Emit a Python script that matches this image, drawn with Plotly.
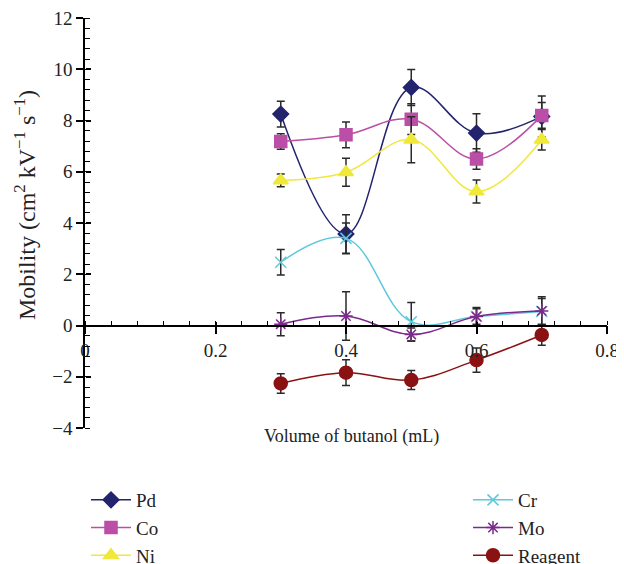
import plotly.graph_objects as go

x_vals = [0.3, 0.4, 0.5, 0.6, 0.7]

pd_vals = [8.25, 3.57, 9.29, 7.51, 8.16]
pd_err = [0.5, 0.75, 0.7, 0.75, 0.8]
co_vals = [7.18, 7.44, 8.05, 6.50, 8.20]
co_err = [0.3, 0.5, 0.6, 0.4, 0.5]
ni_vals = [5.66, 5.98, 7.25, 5.23, 7.25]
ni_err = [0.25, 0.55, 0.9, 0.45, 0.4]
cr_vals = [2.47, 3.40, 0.15, 0.35, 0.55]
cr_err = [0.5, 0.6, 0.75, 0.3, 0.5]
mo_vals = [0.05, 0.37, -0.35, 0.35, 0.57]
mo_err = [0.45, 0.95, 0.25, 0.35, 0.55]
rg_vals = [-2.26, -1.84, -2.13, -1.35, -0.37]
rg_err = [0.38, 0.5, 0.37, 0.47, 0.4]

x_ticks = [0, 0.2, 0.4, 0.6, 0.8]
x_tick_text = ["0", "0.2", "0.4", "0.6", "0.8"]
y_ticks = [-4, -2, 0, 2, 4, 6, 8, 10, 12]

FONT = "Liberation Serif"
TXT = "#222222"

series = [
    ("Pd", pd_vals, pd_err, "#23236e", "diamond", 12, "legend"),
    ("Co", co_vals, co_err, "#bb4ea6", "square", 12, "legend"),
    ("Ni", ni_vals, ni_err, "#f0e83a", "triangle-up", 13, "legend"),
    ("Cr", cr_vals, cr_err, "#5ec8dc", "x-thin-open", 11, "legend2"),
    ("Mo", mo_vals, mo_err, "#7b2a8c", "asterisk-open", 11, "legend2"),
    ("Reagent", rg_vals, rg_err, "#8a1212", "circle", 13, "legend2"),
]

fig = go.Figure()
for name, vals, err, color, sym, size, leg in series:
    fig.add_trace(go.Scatter(
        x=x_vals, y=vals, name=name, mode="lines+markers",
        line=dict(color=color, width=1.5, shape="spline", smoothing=1.1),
        marker=dict(symbol=sym, size=size, color=color,
                    line=dict(color=color, width=1.5)),
        error_y=dict(type="data", array=err, visible=True,
                     color="#2a2a2a", thickness=1.5, width=4),
        legend=leg, cliponaxis=False,
    ))

# invisible trace for overlay axes (crossing major ticks)
fig.add_trace(go.Scatter(x=[None], y=[None], xaxis="x2", yaxis="y2",
                         showlegend=False, hoverinfo="skip"))

axis_font = dict(family=FONT, size=19, color=TXT)
W, H = 522, 410  # plot area in px
OFF = 8          # page body margin

fig.update_layout(
    width=624 - OFF, height=564 - OFF,
    paper_bgcolor="white", plot_bgcolor="white",
    margin=dict(l=85 - OFF, r=17, t=18 - OFF, b=136, autoexpand=False),
    font=dict(family=FONT, size=19, color=TXT),
    xaxis=dict(
        range=[0, 0.8], anchor="free", position=0.25, automargin=False,
        tickvals=x_ticks, ticktext=x_tick_text, ticklabeloverflow="allow",
        ticks="outside", ticklen=8, tickwidth=1.5, tickcolor="black",
        minor=dict(dtick=0.04, ticks="inside", ticklen=4, tickwidth=1.2, tickcolor="black"),
        showline=True, linecolor="black", linewidth=1.5,
        showgrid=False, zeroline=False, tickfont=axis_font,
    ),
    yaxis=dict(
        range=[-4, 12], tickvals=y_ticks, automargin=False,
        ticklabeloverflow="allow",
        ticks="outside", ticklen=7, tickwidth=1.5, tickcolor="black",
        minor=dict(dtick=0.4, ticks="inside", ticklen=5, tickwidth=1.2, tickcolor="black"),
        showline=True, linecolor="black", linewidth=1.5,
        showgrid=False, zeroline=False, tickfont=axis_font,
    ),
    xaxis2=dict(
        range=[0, 0.8], overlaying="x", anchor="free", position=0.25,
        automargin=False,
        tickvals=x_ticks, ticks="inside", ticklen=4, tickwidth=1.5,
        tickcolor="black", showticklabels=False, showline=False,
        showgrid=False, zeroline=False,
    ),
    yaxis2=dict(
        range=[-4, 12], overlaying="y", anchor="free", position=0,
        automargin=False,
        tickvals=y_ticks, ticks="inside", ticklen=5, tickwidth=1.5,
        tickcolor="black", showticklabels=False, showline=False,
        showgrid=False, zeroline=False,
    ),
    legend=dict(x=(86 - 85) / W, y=(428 - 481) / H, xanchor="left", yanchor="top",
                font=dict(family=FONT, size=19, color=TXT), itemwidth=40,
                bgcolor="rgba(0,0,0,0)", tracegroupgap=0),
    legend2=dict(x=(468 - 85) / W, y=(428 - 481) / H, xanchor="left", yanchor="top",
                 font=dict(family=FONT, size=19, color=TXT), itemwidth=40,
                 bgcolor="rgba(0,0,0,0)", tracegroupgap=0),
    annotations=[
        dict(text="Volume of butanol (mL)", xref="paper", yref="paper",
             x=(351 - 85) / W, y=(428 - 436) / H, showarrow=False,
             xanchor="center", yanchor="middle",
             font=dict(family=FONT, size=18, color=TXT)),
        dict(text="Mobility (cm<sup>2</sup> kV<sup>−1</sup> s<sup>−1</sup>)",
             xref="paper", yref="paper",
             x=(25 - 85) / W, y=(428 - 205) / H, showarrow=False,
             textangle=-90, xanchor="center", yanchor="middle",
             font=dict(family=FONT, size=24, color=TXT)),
    ],
)

fig.write_html("out.html")
